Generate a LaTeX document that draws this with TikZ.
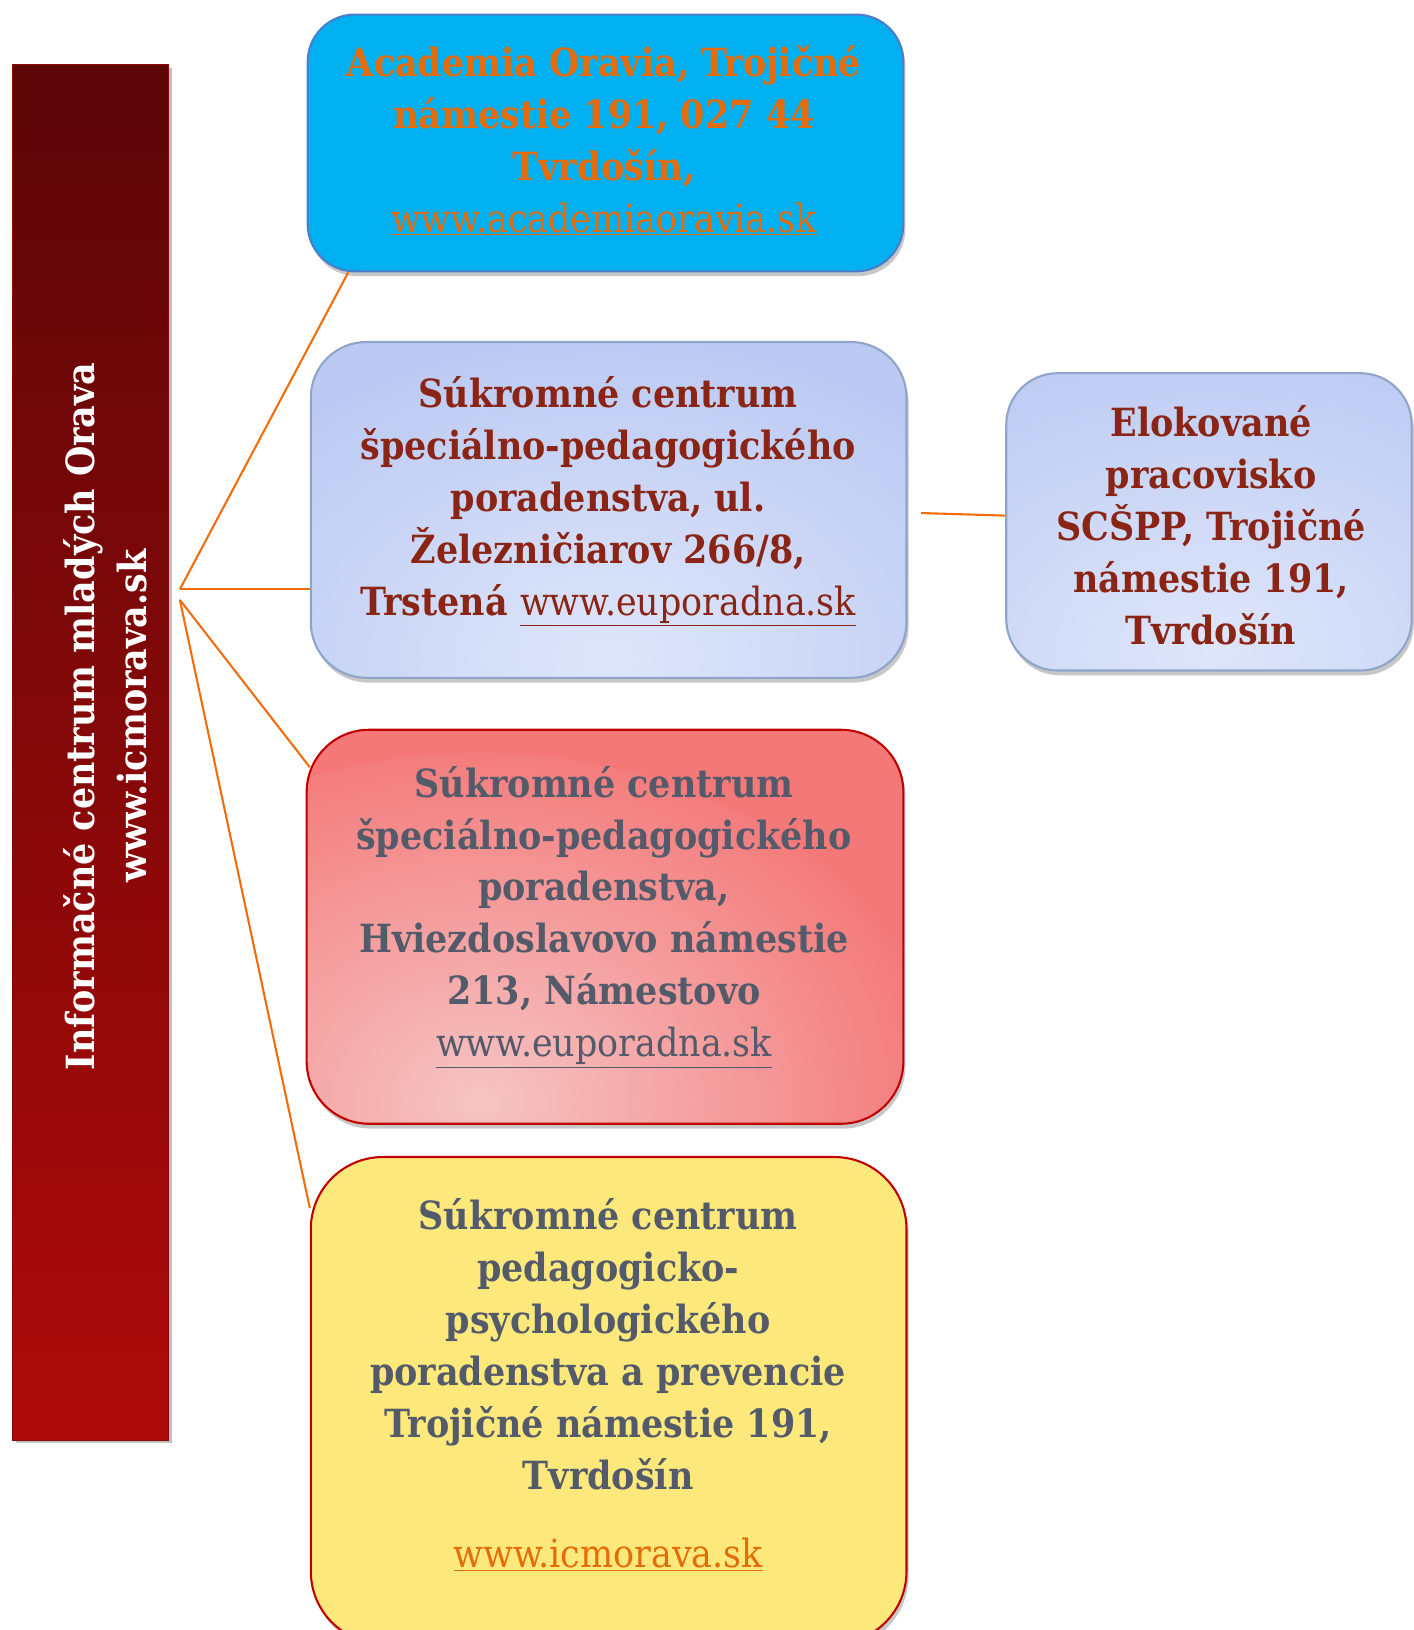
\documentclass[tikz,border=0pt]{standalone}
\usepackage{fontspec}
\setmainfont{DejaVu Serif Condensed}
\usetikzlibrary{shadows,calc}
\definecolor{cyanbox}{HTML}{00B0F0}
\definecolor{cyanborder}{HTML}{4A7EC8}
\definecolor{orangetxt}{HTML}{E46C0A}
\definecolor{lineorange}{HTML}{F36C0C}
\definecolor{redtxt}{HTML}{8A2414}
\definecolor{slatetxt}{HTML}{535A6A}
\definecolor{blueborder}{HTML}{8EA4C9}
\definecolor{bluedark}{HTML}{BCCAF3}
\definecolor{bluelight}{HTML}{DEE6FA}
\definecolor{pinkdark}{HTML}{F47878}
\definecolor{pinklight}{HTML}{F6C4C4}
\definecolor{darkredborder}{HTML}{C00000}
\definecolor{yellowbox}{HTML}{FDE97B}
\definecolor{bartop}{HTML}{5C0608}
\definecolor{barbottom}{HTML}{AE0A0A}
\newcommand\weblink[1]{\textmd{\underline{#1}}}
\begin{document}
\begin{tikzpicture}[x=0.75pt,y=-0.75pt,
  boxbase/.style={rectangle, inner sep=0pt, anchor=north west, line width=1.5pt,
    drop shadow={shadow xshift=1.5pt, shadow yshift=-3.5pt, fill=black, opacity=0.22}},
  bluebox/.style={boxbase, draw=blueborder, fill=bluedark, rounded corners=40pt,
    path picture={\shade[inner color=bluelight, outer color=bluedark]
      ($(path picture bounding box.south)+(0,-20)$) ellipse [x radius=330pt, y radius=230pt];}},
  conn/.style={draw=lineorange, line width=1.5pt},
  txt/.style={align=center, inner sep=0pt, font=\fontsize{28}{37.5}\selectfont\bfseries},
]
\useasboundingbox (0,0) rectangle (1360,1568);

% left bar
\node[rectangle, inner sep=0pt, anchor=north west, minimum width=112.5pt, minimum height=992.25pt,
  top color=bartop, bottom color=barbottom, draw=barbottom!80!black, line width=0.6pt,
  drop shadow={shadow xshift=2pt, shadow yshift=-2pt, fill=black, opacity=0.25}] (bar) at (12,62) {};
\node[txt, text=white, rotate=90] (bartext) at (101,689) {Informačné centrum mladých Orava\\www.icmorava.sk};

% box 1
\node[boxbase, draw=cyanborder, fill=cyanbox, rounded corners=34pt,
  minimum width=429.75pt, minimum height=185.25pt] (b1) at (295,13) {};
\node[txt, text=orangetxt] (t1) at (581,135) {Academia Oravia, Trojičné\\námestie 191, 027 44\\Tvrdošín,\\\weblink{www.academiaoravia.sk}};

% box 2
\node[bluebox, minimum width=429.75pt, minimum height=242.25pt] (b2) at (298,328) {};
\node[txt, text=redtxt] (t2) at (585,482) {Súkromné centrum\\špeciálno-pedagogického\\poradenstva, ul.\\Železničiarov 266/8,\\Trstená \weblink{www.euporadna.sk}};

% box 4
\node[bluebox, rounded corners=37pt, minimum width=292.5pt, minimum height=214.5pt] (b4) at (967,358) {};
\node[txt, text=redtxt] (t4) at (1165,505) {Elokované\\pracovisko\\SCŠPP, Trojičné\\námestie 191,\\Tvrdošín};

% box 3
\node[boxbase, draw=darkredborder, fill=pinkdark, rounded corners=45pt,
  minimum width=430.5pt, minimum height=284.25pt,
  path picture={\shade[inner color=pinklight, outer color=pinkdark]
    ($(path picture bounding box.south)+(-120,-10)$) ellipse [x radius=340pt, y radius=260pt];}] (b3) at (294,701) {};
\node[txt, text=slatetxt] (t3) at (581,882) {Súkromné centrum\\špeciálno-pedagogického\\poradenstva,\\Hviezdoslavovo námestie\\213, Námestovo\\\weblink{www.euporadna.sk}};

% box 5
\node[boxbase, draw=darkredborder, fill=yellowbox, rounded corners=52pt,
  minimum width=429.75pt, minimum height=351pt] (b5) at (298,1112) {};
\node[txt, text=slatetxt] (t5) at (585,1332) {Súkromné centrum\\pedagogicko-\\psychologického\\poradenstva a prevencie\\Trojičné námestie 191,\\Tvrdošín\\[19pt]\textcolor{orangetxt}{\weblink{www.icmorava.sk}}};

% connectors
\coordinate (j1) at (173,567);
\coordinate (j2) at (173,577);
\draw[conn] (j1) -- ($(b1.south west)+(40,0)$);
\draw[conn] (j1) -- (b2.west |- j1);
\draw[conn] (j2) -- ($(b3.north west)+(4,37)$);
\draw[conn] (j2) -- ($(b5.north west)+(0,50)$);
\draw[conn] ($(b2.east)+(13,3)$) -- ($(b4.west)+(0,-6)$);
\end{tikzpicture}
\end{document}
